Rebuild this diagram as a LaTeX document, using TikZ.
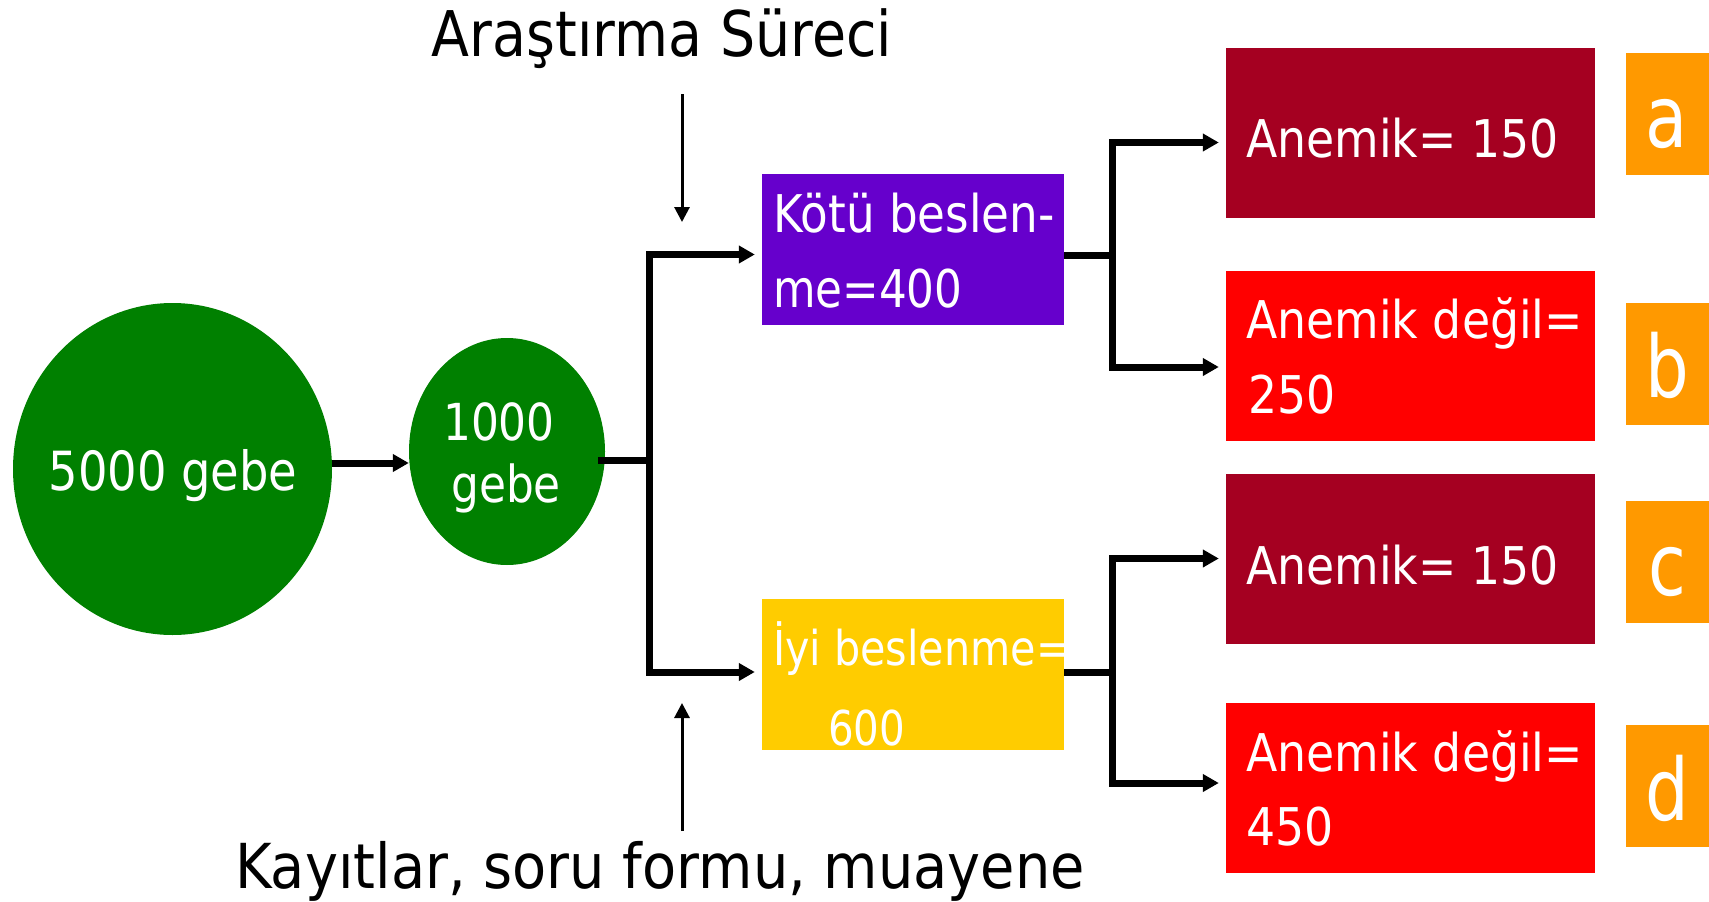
\documentclass[tikz,border=0pt]{standalone}
\usepackage{fontspec}
\setmainfont{DejaVu Sans}
\newfontfamily\fntR{DejaVu Sans}[FakeStretch=0.88]
\newfontfamily\fntP{DejaVu Sans}[FakeStretch=0.87]
\newfontfamily\fntQ{DejaVu Sans}[FakeStretch=0.84]
\newfontfamily\fntY{DejaVu Sans}[FakeStretch=0.86]
\newfontfamily\fntZ{DejaVu Sans}[FakeStretch=0.84]
\newfontfamily\fntC{DejaVu Sans}[FakeStretch=0.86]
\newfontfamily\fntT{DejaVu Sans}[FakeStretch=0.88]
\newfontfamily\fntB{DejaVu Sans}[FakeStretch=0.9]
\newfontfamily\fntL{DejaVu Sans}[FakeStretch=0.8]
\usetikzlibrary{arrows.meta,shapes.geometric}
\definecolor{dgreen}{HTML}{008000}
\definecolor{dred}{HTML}{A50021}
\definecolor{bred}{HTML}{FF0000}
\definecolor{orng}{HTML}{FF9900}
\definecolor{purp}{HTML}{6600CC}
\definecolor{yell}{HTML}{FFCC00}
\tikzset{
  conn/.style={line width=7pt},
  arr/.style={line width=7pt, -{Triangle[length=16pt,width=17pt]}, shorten >=7pt},
  thinarr/.style={line width=3pt, -{Triangle[length=15pt,width=15pt]}},
  wt/.style={inner sep=0, text=white, anchor=base west},
  rbox/.style={minimum width=369pt, minimum height=170pt, inner sep=0},
  mbox/.style={minimum width=302pt, minimum height=151pt, inner sep=0},
  obox/.style={fill=orng, minimum width=94pt, minimum height=122pt, inner sep=0},
  rfont/.style={font=\fntR\fontsize{52}{60}\selectfont},
  letter/.style={inner sep=0, anchor=base, text=white, font=\fntL\fontsize{86}{90}\selectfont},
}
\begin{document}
\begin{tikzpicture}[x=1pt,y=-1pt]
\useasboundingbox (0,0) rectangle (1709,902);
\fill[white] (0,0) rectangle (1709,902);

% ellipses
\node[ellipse, fill=dgreen, minimum width=319pt, minimum height=332pt, inner sep=0] (e1) at (172.5,469) {};
\node[ellipse, fill=dgreen, minimum width=196pt, minimum height=227pt, inner sep=0] (e2) at (507,451.5) {};
\node[inner sep=0, anchor=base, text=white, font=\fntC\fontsize{54}{60}\selectfont] (t1) at (173,490) {5000 gebe};
\node[inner sep=0, anchor=base, text=white, font=\fntC\fontsize{51}{60}\selectfont] (t2) at (499,440) {1000};
\node[inner sep=0, anchor=base, text=white, font=\fntC\fontsize{51}{60}\selectfont] (t3) at (506,502) {gebe};

% middle boxes
\node[mbox, fill=purp] (kotu) at (913,249.5) {};
\node[mbox, fill=yell] (iyi) at (913,674.5) {};
\node[wt, font=\fntP\fontsize{52}{60}\selectfont] (k1) at (773,232) {Kötü beslen-};
\node[wt, font=\fntQ\fontsize{52}{60}\selectfont] (k2) at (773,307) {me=400};
\node[wt, font=\fntY\fontsize{48}{56}\selectfont] (i1) at (773,665) {İyi beslenme=};
\node[wt, font=\fntZ\fontsize{48}{56}\selectfont] (i2) at (828,745) {600};

% right boxes
\node[rbox, fill=dred] (b1) at (1410.5,132.5) {};
\node[rbox, fill=bred] (b2) at (1410.5,356) {};
\node[rbox, fill=dred] (b3) at (1410.5,558.5) {};
\node[rbox, fill=bred] (b4) at (1410.5,788) {};
\node[wt, rfont] (r1) at (1246,157) {Anemik= 150};
\node[wt, rfont] (r2) at (1246,338) {Anemik değil=};
\node[wt, rfont] (r2b) at (1248,413) {250};
\node[wt, rfont] (r3) at (1246,584) {Anemik= 150};
\node[wt, rfont] (r4) at (1246,771) {Anemik değil=};
\node[wt, rfont] (r4b) at (1246,845) {450};

% orange letter boxes
\node[obox] (oa) at (1673,114) {};
\node[obox] (ob) at (1673,364) {};
\node[obox] (oc) at (1673,562) {};
\node[obox] (od) at (1673,786) {};
\node[letter] (la) at (1667,147) {a};
\node[letter] (lb) at (1667,397) {b};
\node[letter] (lc) at (1667,595) {c};
\node[letter] (ld) at (1667,820) {d};

% titles
\node[inner sep=0, anchor=base, font=\fntT\fontsize{63}{70}\selectfont] (top) at (662,56) {Araştırma Süreci};
\node[inner sep=0, anchor=base, font=\fntB\fontsize{62}{70}\selectfont] (bot) at (660,888) {Kayıtlar, soru formu, muayene};

% connectors
\draw[arr, shorten >=0pt] ([yshift=6pt]e1.east) -- ([yshift=-11.5pt]e2.west);
\coordinate (j1) at (649,460);
\draw[conn] ([xshift=-7pt,yshift=-8.5pt]e2.east) -- (j1);
\draw[arr] (j1) |- ([yshift=-5pt]kotu.west);
\draw[arr] (j1) |- ([yshift=2.5pt]iyi.west);

\coordinate (j2) at (1112,255);
\draw[conn] ([yshift=-5.5pt]kotu.east) -- (j2);
\draw[arr] (j2) |- ([yshift=-10pt]b1.west);
\draw[arr] (j2) |- ([yshift=-11pt]b2.west);

\coordinate (j3) at (1112,672);
\draw[conn] ([yshift=2.5pt]iyi.east) -- (j3);
\draw[arr] (j3) |- (b3.west);
\draw[arr] (j3) |- ([yshift=5pt]b4.west);

\coordinate (d1) at (682,94);
\coordinate (d2) at (682,222);
\draw[thinarr] (d1) -- (d2);
\coordinate (u1) at (682,831);
\coordinate (u2) at (682,703);
\draw[thinarr] (u1) -- (u2);
\end{tikzpicture}
\end{document}
